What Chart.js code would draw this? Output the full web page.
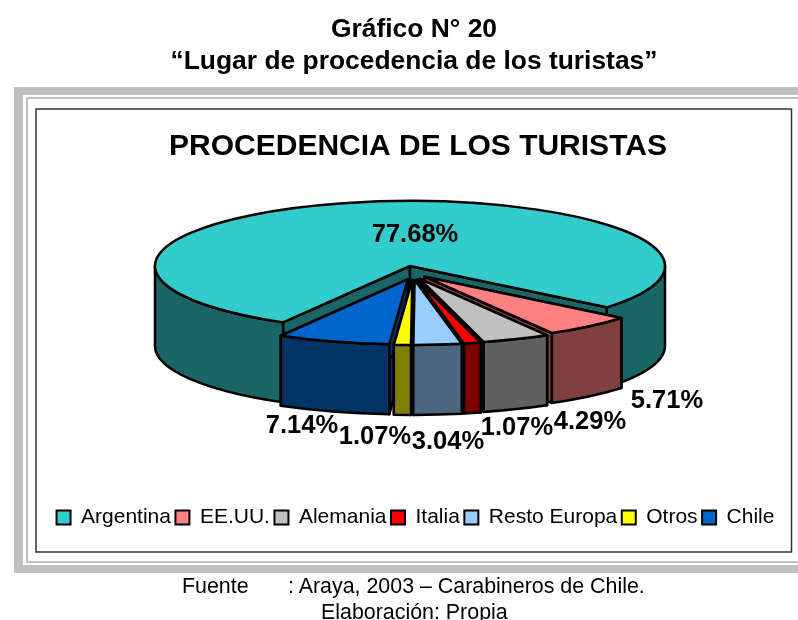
<!DOCTYPE html>
<html lang="es">
<head>
<meta charset="utf-8">
<title>Lugar de procedencia de los turistas</title>
<script src="https://cdn.jsdelivr.net/npm/chart.js@4"></script>
<style>
  html, body { margin: 0; padding: 0; background: #fff; overflow: hidden; }
  #wrap { position: relative; width: 798px; height: 620px; overflow: hidden; font-family: "Liberation Sans", Arial, sans-serif; color: #000; }
  canvas { position: absolute; left: 0; top: 0; }
  .t { position: absolute; left: 0; text-align: center; white-space: pre; z-index: 2; }
  .h { font-weight: bold; font-size: 26.4px; width: 828px; }
  .f { font-size: 21.4px; }
</style>
</head>
<body>
<div id="wrap">
  <canvas id="c" width="798" height="620"></canvas>
  <div class="t h" style="top:13px">Gráfico N° 20</div>
  <div class="t h" style="top:45px">“Lugar de procedencia de los turistas”</div>
  <div class="t f" style="left:182px;top:574px">Fuente</div>
  <div class="t f" style="left:288px;top:574px">: Araya, 2003 – Carabineros de Chile.</div>
  <div class="t f" style="left:321px;top:600px">Elaboración: Propia</div>
</div>
<script>
const categories = ['Argentina', 'EE.UU.', 'Alemania', 'Italia', 'Resto Europa', 'Otros', 'Chile'];
const shares = [77.68, 5.71, 4.29, 1.07, 3.04, 1.07, 7.14];
const topColors = ['#33CCCC', '#FF8080', '#C0C0C0', '#FF0000', '#99CCFF', '#FFFF00', '#0066CC'];
const sideColors = ['#1A6666', '#804040', '#606060', '#800000', '#4C6680', '#808000', '#003366'];
const chartTitle = 'PROCEDENCIA DE LOS TURISTAS';

// Layout of the tilted pie
const CX = 410, CY = 266, RX = 255, RY = 65;
const DEPTH_MAIN = 80, DEPTH_EXPLODED = 70;
const labelCentres = [[415, 235], [667, 401], [590, 422], [517, 428], [448, 442], [375, 437], [302, 426]];

function shift(i, el) {
  if (i === 0) return [0, 0];
  const mid = (el.startAngle + el.endAngle) / 2;
  return [3 + 18 * Math.cos(mid), 14 * Math.sin(mid)];
}

function wall(ctx, x, y, a0, a1, d, fill) {
  const segs = [[0, Math.PI], [2 * Math.PI, 3 * Math.PI]];
  segs.forEach(([s, e]) => {
    const from = Math.max(a0, s), to = Math.min(a1, e);
    if (to <= from) return;
    ctx.beginPath();
    ctx.ellipse(x, y, RX, RY, 0, from, to);
    ctx.ellipse(x, y + d, RX, RY, 0, to, from, true);
    ctx.closePath();
    ctx.fillStyle = fill;
    ctx.fill();
    ctx.stroke();
  });
}

function radial(ctx, x, y, a, d, fill) {
  const px = x + RX * Math.cos(a), py = y + RY * Math.sin(a);
  ctx.beginPath();
  ctx.moveTo(x, y);
  ctx.lineTo(px, py);
  ctx.lineTo(px, py + d);
  ctx.lineTo(x, y + d);
  ctx.closePath();
  ctx.fillStyle = fill;
  ctx.fill();
  ctx.stroke();
}

const framePlugin = {
  id: 'frame',
  afterLayout(chart) {
    chart.legend.left -= 2.5;
    chart.legend.right -= 2.5;
  },
  beforeDraw(chart) {
    const ctx = chart.ctx;
    ctx.save();
    ctx.fillStyle = '#C0C0C0';
    ctx.fillRect(14, 87, 784, 8);
    ctx.fillRect(14, 87, 9, 486);
    ctx.fillRect(14, 565, 784, 8);
    ctx.fillRect(26, 97, 772, 2);
    ctx.fillRect(26, 97, 2, 466);
    ctx.fillRect(26, 561, 772, 2);
    ctx.strokeStyle = '#333333';
    ctx.lineWidth = 1.5;
    ctx.strokeRect(36, 109, 755.5, 443);
    ctx.restore();
  }
};

const pie3d = {
  id: 'pie3d',
  beforeDatasetsDraw(chart) {
    const ctx = chart.ctx;
    const arcs = chart.getDatasetMeta(0).data;
    const order = arcs.map((el, i) => i).sort((p, q) => {
      if (p === 0) return -1;
      if (q === 0) return 1;
      const mp = Math.abs(Math.cos((arcs[p].startAngle + arcs[p].endAngle) / 2));
      const mq = Math.abs(Math.cos((arcs[q].startAngle + arcs[q].endAngle) / 2));
      return mq - mp;
    });
    ctx.save();
    ctx.lineJoin = 'round';
    ctx.strokeStyle = '#000000';
    ctx.lineWidth = 2.5;
    order.forEach(i => {
      const el = arcs[i];
      const [dx, dy] = shift(i, el);
      const x = CX + dx, y = CY + dy;
      const d = i === 0 ? DEPTH_MAIN : DEPTH_EXPLODED;
      radial(ctx, x, y, el.startAngle, d, sideColors[i]);
      radial(ctx, x, y, el.endAngle, d, sideColors[i]);
      wall(ctx, x, y, el.startAngle, el.endAngle, d, sideColors[i]);

      // top face: the library's own arc element, flattened into an ellipse
      ctx.save();
      ctx.translate(x, y);
      ctx.scale(RX / el.outerRadius, RY / el.outerRadius);
      ctx.translate(-el.x, -el.y);
      el.draw(ctx);
      ctx.restore();

      ctx.beginPath();
      ctx.moveTo(x, y);
      ctx.ellipse(x, y, RX, RY, 0, el.startAngle, el.endAngle);
      ctx.closePath();
      ctx.stroke();
    });
    ctx.fillStyle = '#000000';
    ctx.font = 'bold 25.5px "Liberation Sans", Arial, sans-serif';
    ctx.textAlign = 'center';
    ctx.textBaseline = 'middle';
    shares.forEach((v, i) => {
      ctx.fillText(v.toFixed(2) + '%', labelCentres[i][0], labelCentres[i][1]);
    });
    ctx.restore();
    return false;
  }
};

new Chart(document.getElementById('c'), {
  type: 'pie',
  data: {
    labels: categories,
    datasets: [{
      data: shares,
      backgroundColor: topColors,
      borderWidth: 0,
      radius: 255
    }]
  },
  plugins: [framePlugin, pie3d],
  options: {
    responsive: false,
    animation: false,
    rotation: 209.85,
    radius: 255,
    layout: { padding: { left: 38, right: 0, top: 129, bottom: 82 } },
    events: [],
    plugins: {
      tooltip: { enabled: false },
      title: {
        display: true,
        text: chartTitle,
        color: '#000000',
        font: { family: '"Liberation Sans", Arial, sans-serif', size: 30, weight: 'bold' },
        padding: 0
      },
      legend: {
        display: true,
        position: 'bottom',
        labels: {
          color: '#000000',
          font: { family: '"Liberation Sans", Arial, sans-serif', size: 21 },
          boxWidth: 14,
          boxHeight: 14,
          padding: 4.5,
          generateLabels(chart) {
            return categories.map((name, i) => ({
              text: name,
              fillStyle: topColors[i],
              strokeStyle: '#000000',
              lineWidth: 2,
              index: i
            }));
          }
        }
      }
    }
  }
});
</script>
</body>
</html>
